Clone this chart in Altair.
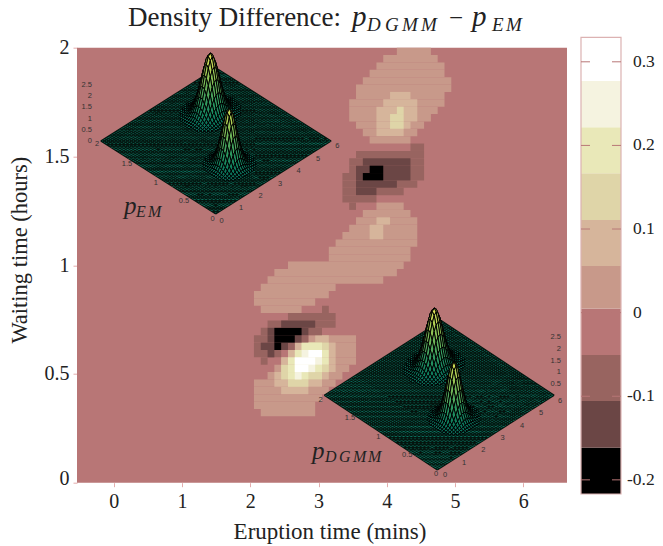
import altair as alt

# ---------- main heat map ----------
X_MIN, X_MAX = -0.54, 6.64
N_COLS, N_ROWS = 72, 59
SERIF = "Liberation Serif"
SANS = "Liberation Sans"

BAND_EDGES = [-0.2169, -0.1615, -0.1057, -0.0506, 0.0048, 0.0558, 0.1108, 0.1667, 0.2217, 0.2771, 0.3293]
BAND_COLORS = ["#000000", "#6b4645", "#986460", "#b87676", "#c8998a", "#d6b59b", "#dfd5a8", "#e9e8b8", "#f5f3e0", "#ffffff"]
BAND_VALUES = [-0.19, -0.13, -0.08, -0.02, 0.03, 0.08, 0.14, 0.19, 0.25, 0.30]

# (row from top, first column, last column)
L1 = [(0,47,51),(1,45,52),(2,44,53),(3,43,53),(4,42,54),(5,41,54),(6,41,53),(7,40,53),(8,40,52),(9,40,51),(10,41,50),(11,42,49),(12,43,48),
      (21,44,47),(22,42,48),(23,41,49),(24,40,49),(25,39,49),(26,38,49),(27,37,48),(28,37,48),(29,31,47),(30,29,46),(31,28,44),(32,27,37),(33,26,36),(34,26,34),(35,27,32),
      (39,34,40),(40,32,40),(41,31,40),(42,30,40),(43,29,39),(44,28,38),(45,26,37),(46,26,36),(47,26,35),(48,26,34),(49,27,34)]
L2 = [(6,46,48),(7,45,49),(8,44,49),(9,44,49),(10,44,48),(11,44,47),(23,44,45),(24,43,44),(25,43,44),
      (39,35,36),(40,32,37),(41,31,37),(42,30,37),(43,30,37),(44,29,36),(45,29,35),(46,30,33)]
L3 = [(8,47,47),(9,46,47),(10,46,47),(40,33,36),(43,30,30),(43,36,36),(44,30,35),(45,31,33)]
L4 = [(40,33,35),(41,32,36),(42,31,36),(43,31,35),(44,31,33)]
L5 = [(41,33,35),(42,32,35),(43,32,34),(44,32,32)]
L6 = [(41,34,35),(42,32,34),(43,32,33)]
A1 = [(13,49,50),(14,41,50),(15,40,50),(16,40,50),(17,39,50),(18,39,49),(19,39,47),(20,39,43),(21,40,40),
      (35,36,36),(36,31,37),(37,28,37),(38,27,35),(39,26,33),(40,26,31),(41,26,29),(42,27,27)]
A2 = [(15,42,48),(16,41,48),(17,41,48),(18,41,46),(19,41,43),(37,30,34),(38,28,33),(39,28,32),(40,27,30),(41,28,28)]
A3 = [(16,43,44),(17,42,44),(38,29,32),(39,29,31),(40,29,29)]

RUN_GROUPS = [(L1, 0.03), (L2, 0.08), (L3, 0.14), (L4, 0.19), (L5, 0.25), (L6, 0.30),
              (A1, -0.08), (A2, -0.13), (A3, -0.19)]

# ---------- 3-D insets ----------
PLOT_LEFT, PLOT_TOP, PLOT_W, PLOT_H = 77, 47.7, 490, 435
MESH = 60
Z_TICKS = [0, 0.5, 1, 1.5, 2, 2.5]
X_TICKS = [0, 1, 2, 3, 4, 5, 6]
Y_TICKS = [0, 0.5, 1, 1.5, 2]

# falling profile of a peak, node by node from its crest
BIG_I = [1, .96, .85, .69, .52, .36, .23, .135, .073, .037, .017, .007]
BIG_J = [1, .95, .80, .61, .41, .25, .135, .066, .029, .011, .004]
SMALL_IJ = [1, .94, .77, .56, .36, .20, .10, .044, .017, .006]

INSETS = [
    dict(bottom=(215.7, 214), step=(1.925, 1.217, 1.917), big=(40, 43, 60), small=(24, 17, 55.8),
         z_x=92, z_y=[141, 130, 119, 107.5, 96, 85], z_skip=[],
         x_lab=[(221.7,220.7),(241,208),(260.7,196),(280,183.7),(298.7,171.3),(318,159),(337.3,146.3)],
         y_lab=[(212.7,219),(184,200.7),(155.7,182.7),(127,164),(97,144.5)]),
    dict(bottom=(437.3, 470), step=(1.95, 1.245, 1.885), big=(40, 43, 58.7), small=(25, 17, 56),
         z_x=561, z_y=[395, 383.7, 372, 360.7, 349, 337.3], z_skip=[0],
         x_lab=[(445,475),(464,462.7),(483.3,450),(502.7,438),(522,425.7),(541,413.3),(560,400.7)],
         y_lab=[(436,474),(407.3,455),(378.3,436.7),(350,418.3),(320.7,399.7)]),
]

COLOR_STOPS_Z = [0, 0.12, 0.3, 0.55, 0.8, 1.0]
COLOR_STOPS = ["#0c6b58", "#12835f", "#2f9a60", "#6fb558", "#b4d054", "#e6e458"]


def surface_features(ins):
    bx, by = ins["bottom"]
    sx_i, sy, sx_j = ins["step"]

    def height(i, j):
        h = 0.0
        for (ci, cj, pk), pi, pj in ((ins["big"], BIG_I, BIG_J), (ins["small"], SMALL_IJ, SMALL_IJ)):
            di, dj = abs(i - ci), abs(j - cj)
            if di < len(pi) and dj < len(pj):
                h += pk * pi[di] * pj[dj]
        return h

    def pt(i, j, h=0.0):
        return [bx + sx_i * i - sx_j * j - PLOT_LEFT, by - sy * (i + j) - h - PLOT_TOP]

    feats = []
    outline = [pt(0, 0), pt(MESH, 0), pt(MESH, MESH), pt(0, MESH), pt(0, 0)]
    feats.append({"type": "Feature", "properties": {"z": 0, "w": 0},
                  "geometry": {"type": "Polygon", "coordinates": [outline]}})
    lines = []
    for n in range(MESH + 1):
        lines.append([pt(n, 0), pt(n, MESH)])
        lines.append([pt(0, n), pt(MESH, n)])
    mesh = {"type": "Feature", "properties": {"z": 0, "w": 1},
            "geometry": {"type": "MultiLineString", "coordinates": lines}}

    quads = []
    for i in range(MESH):
        for j in range(MESH):
            hs = [height(i, j), height(i + 1, j), height(i + 1, j + 1), height(i, j + 1)]
            if max(hs) > 0.4:
                quads.append((i + j, i, j, hs))
    quads.sort(key=lambda q: (-q[0], q[1]))
    peak_max = max(ins["big"][2], ins["small"][2])
    out = []
    for _, i, j, hs in quads:
        ring = [pt(i, j, hs[0]), pt(i + 1, j, hs[1]), pt(i + 1, j + 1, hs[2]), pt(i, j + 1, hs[3]), pt(i, j, hs[0])]
        out.append({"type": "Feature", "properties": {"z": round(sum(hs) / 4 / peak_max, 3)},
                    "geometry": {"type": "Polygon", "coordinates": [ring]}})
    return feats, mesh, out


# ---------- build ----------
def x_edge(k):
    return X_MIN + (X_MAX - X_MIN) * k / N_COLS


def y_edge(r):
    return 2 - 2 * r / N_ROWS


cells = []
for runs, v in RUN_GROUPS:
    for r, k0, k1 in runs:
        cells.append({"x": x_edge(k0), "x2": x_edge(k1 + 1), "y": y_edge(r), "y2": y_edge(r + 1), "v": v})

x_scale = alt.Scale(domain=[X_MIN, X_MAX], nice=False, zero=False)
y_scale = alt.Scale(domain=[0, 2], nice=False, zero=False)
band_color = alt.Color("v:Q", legend=None,
                       scale=alt.Scale(type="threshold", domain=BAND_EDGES[1:-1], range=BAND_COLORS))
x_axis = alt.Axis(values=X_TICKS, format="d", title="Eruption time (mins)", grid=False, domain=False,
                  tickColor="#e3acac", tickSize=4, labelFont=SERIF, labelFontSize=20, labelColor="#222",
                  labelPadding=5, titleFont=SERIF, titleFontSize=23, titleFontWeight="normal",
                  titleColor="#222", titlePadding=9, titleX=252.5)
y_axis = alt.Axis(values=Y_TICKS, format="~g", title="Waiting time (hours)", grid=False, domain=False, tickColor="#e3acac",
                  tickSize=4, labelFont=SERIF, labelFontSize=20, labelColor="#222", labelPadding=4,
                  labelOffset={"condition": {"test": "datum.value === 0", "value": -4}, "value": 0},
                  titleFont=SERIF, titleFontSize=22.5, titleFontWeight="normal", titleColor="#222",
                  titlePadding=13, titleY=202)

bg = alt.Chart(alt.Data(values=[{"x": X_MIN, "x2": X_MAX, "y": 0, "y2": 2, "v": BAND_VALUES[3]}])).mark_rect(strokeWidth=0).encode(
    x=alt.X("x:Q", scale=x_scale, axis=x_axis), x2="x2:Q",
    y=alt.Y("y:Q", scale=y_scale, axis=y_axis), y2="y2:Q",
    color=band_color,
)
cell_layer = alt.Chart(alt.Data(values=cells)).mark_rect(strokeWidth=0).encode(
    x=alt.X("x:Q", scale=x_scale, axis=x_axis), x2="x2:Q",
    y=alt.Y("y:Q", scale=y_scale, axis=y_axis), y2="y2:Q", color=band_color)

PROJ = dict(type="identity", scale=1, translate=[0, 0])
z_color = alt.Color("properties.z:Q", legend=None,
                    scale=alt.Scale(domain=COLOR_STOPS_Z, range=COLOR_STOPS))

layers = [bg, cell_layer]
label_rows = []
for ins in INSETS:
    base, mesh, quads = surface_features(ins)
    layers.append(alt.Chart(alt.Data(values=base)).mark_geoshape(fill="#0c7561", strokeWidth=0).project(**PROJ))
    layers.append(alt.Chart(alt.Data(values=[mesh])).mark_geoshape(filled=False, stroke="#04150f", strokeWidth=1.2).project(**PROJ))
    layers.append(alt.Chart(alt.Data(values=quads)).mark_geoshape(stroke="#000000", strokeWidth=1.0).encode(color=z_color).project(**PROJ))
    for t, p in zip(X_TICKS, ins["x_lab"]):
        label_rows.append({"lon": p[0] - PLOT_LEFT, "lat": p[1] - PLOT_TOP, "t": str(t), "a": "c"})
    for t, p in zip(Y_TICKS, ins["y_lab"]):
        label_rows.append({"lon": p[0] - PLOT_LEFT, "lat": p[1] - PLOT_TOP, "t": str(t), "a": "c"})
    for n, (t, yy) in enumerate(zip(Z_TICKS, ins["z_y"])):
        if n not in ins["z_skip"]:
            label_rows.append({"lon": ins["z_x"] - PLOT_LEFT, "lat": yy - PLOT_TOP, "t": str(t), "a": "r"})

for a, align in (("c", "center"), ("r", "right")):
    layers.append(
        alt.Chart(alt.Data(values=[r for r in label_rows if r["a"] == a]))
        .mark_text(font=SANS, fontSize=7.5, color="#333333", align=align, baseline="middle")
        .encode(longitude="lon:Q", latitude="lat:Q", text="t:N").project(**PROJ)
    )

# page-style text: (text, x, baseline y, font size, italic)
TEXT_ITEMS = [
    ("Density Difference:", 128, 26, 27, "normal"),
    ("p", 352, 26, 29, "italic"),
    ("D", 367, 31, 19, "italic"), ("G", 385, 31, 19, "italic"), ("M", 402, 31, 19, "italic"), ("M", 421, 31, 19, "italic"),
    ("\u2212", 449, 26, 25, "normal"),
    ("p", 472, 26, 29, "italic"),
    ("E", 492, 31, 19, "italic"), ("M", 506, 31, 19, "italic"),
    ("p", 124, 214, 25, "italic"),
    ("E", 136, 217, 16, "italic"), ("M", 148, 217, 16, "italic"),
    ("p", 312, 459, 25, "italic"),
    ("D", 325, 462, 16, "italic"), ("G", 339, 462, 16, "italic"), ("M", 353, 462, 16, "italic"), ("M", 368, 462, 16, "italic"),
]
for t, x, y, s, st in TEXT_ITEMS:
    layers.append(
        alt.Chart(alt.Data(values=[{"t": t}]))
        .mark_text(font=SERIF, fontSize=s, fontStyle=st, color="#222222", align="left", baseline="alphabetic")
        .encode(text="t:N", x=alt.value(x - PLOT_LEFT), y=alt.value(y - PLOT_TOP))
    )

main = alt.layer(*layers)

# ---------- colour bar ----------
CB_TICKS = [-0.2, -0.1, 0, 0.1, 0.2, 0.3]
CB_LEFT, CB_RIGHT, CB_TOP, CB_BOTTOM = 581, 621, 37.3, 494
cb_scale = alt.Scale(domain=[BAND_EDGES[0], BAND_EDGES[-1]], range=[CB_BOTTOM - PLOT_TOP, CB_TOP - PLOT_TOP], nice=False, zero=False)
xl, xr = CB_LEFT - PLOT_LEFT, CB_RIGHT - PLOT_LEFT

cb_rows = [{"y": BAND_EDGES[i], "y2": BAND_EDGES[i + 1], "c": BAND_COLORS[i]} for i in range(len(BAND_COLORS))]
cb_y = alt.Y("y:Q", scale=cb_scale, axis=None)
cb_bands = alt.Chart(alt.Data(values=cb_rows)).mark_rect(strokeWidth=0).encode(
    x=alt.value(xl), x2=alt.value(xr), y=cb_y, y2="y2:Q", color=alt.Color("c:N", scale=None, legend=None))
cb_frame = alt.Chart(alt.Data(values=[{"y": BAND_EDGES[0], "y2": BAND_EDGES[-1]}])).mark_rect(
    filled=False, stroke="#dcb2b2", strokeWidth=1.2).encode(x=alt.value(xl), x2=alt.value(xr), y=cb_y, y2="y2:Q")
tick_rows = [{"y": v} for v in CB_TICKS]
cb_t1 = alt.Chart(alt.Data(values=tick_rows)).mark_rule(color="#b87676", strokeWidth=1).encode(
    x=alt.value(xl), x2=alt.value(xl + 9), y=cb_y)
cb_t2 = alt.Chart(alt.Data(values=tick_rows)).mark_rule(color="#b87676", strokeWidth=1).encode(
    x=alt.value(xr - 9), x2=alt.value(xr), y=cb_y)
pos_lab = [{"y": v, "t": ("0" if v == 0 else f"{v:.1f}")} for v in CB_TICKS if v >= 0]
neg_lab = [{"y": v, "t": f"-{abs(v):.1f}"} for v in CB_TICKS if v < 0]
cb_l1 = alt.Chart(alt.Data(values=pos_lab)).mark_text(font=SERIF, fontSize=17.5, color="#222", align="left", baseline="middle").encode(
    x=alt.value(633 - PLOT_LEFT), y=cb_y, text="t:N")
cb_l2 = alt.Chart(alt.Data(values=neg_lab)).mark_text(font=SERIF, fontSize=17.5, color="#222", align="left", baseline="middle").encode(
    x=alt.value(627 - PLOT_LEFT), y=cb_y, text="t:N")
bar = alt.layer(cb_bands, cb_frame, cb_t1, cb_t2, cb_l1, cb_l2)

chart = (
    alt.layer(main, bar)
    .resolve_scale(y="independent", x="independent", color="independent")
    .properties(width=PLOT_W, height=PLOT_H, autosize=alt.AutoSizeParams(type="none"),
                padding={"left": PLOT_LEFT - 8, "top": PLOT_TOP - 8, "right": 88, "bottom": 62},
                background="white")
    .configure_view(stroke=None)
)
chart.save("out.html", embed_options={"renderer": "svg", "actions": False})
